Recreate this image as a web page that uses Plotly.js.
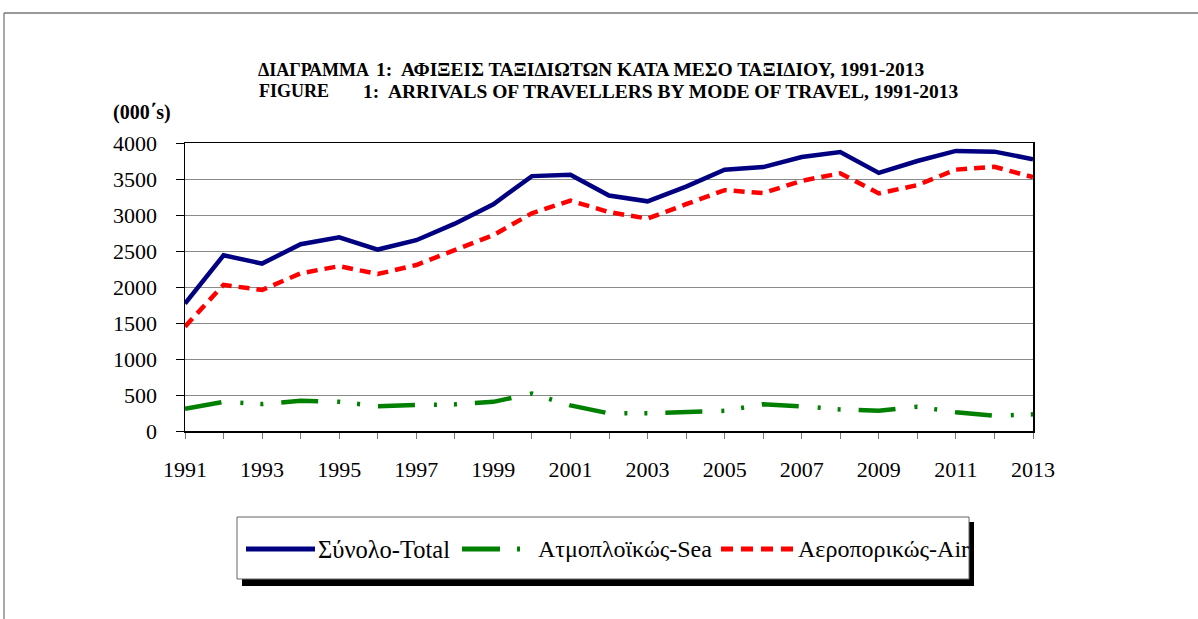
<!DOCTYPE html>
<html>
<head>
<meta charset="utf-8">
<script src="https://cdn.plot.ly/plotly-3.0.1.min.js"></script>
<style>html,body{margin:0;padding:0;background:#fff;}#chart{width:1198px;height:619px;}</style>
</head>
<body>
<div id="chart"></div>
<script>
// ---- data ----
var years = [1991,1992,1993,1994,1995,1996,1997,1998,1999,2000,2001,2002,2003,2004,2005,2006,2007,2008,2009,2010,2011,2012,2013];
var total = [1770,2440,2325,2595,2690,2520,2650,2880,3150,3540,3560,3270,3190,3395,3630,3665,3805,3875,3585,3750,3890,3880,3775];
var sea   = [310,405,375,420,405,345,360,370,405,520,355,245,245,255,280,370,343,300,282,338,260,212,232];
var air   = [1450,2030,1958,2190,2290,2180,2305,2505,2720,3025,3200,3040,2950,3150,3345,3305,3475,3580,3300,3415,3630,3670,3525];
var seriesNames = ["Σύνολο-Total", "Ατμοπλοϊκώς-Sea", "Αεροπορικώς-Air"];
var titleLabels = ["ΔΙΑΓΡΑΜΜΑ", "FIGURE"];
var titleTexts = ["1:  ΑΦΙΞΕΙΣ ΤΑΞΙΔΙΩΤΩΝ ΚΑΤΑ ΜΕΣΟ ΤΑΞΙΔΙΟΥ, 1991-2013",
                  "1:  ARRIVALS OF TRAVELLERS BY MODE OF TRAVEL, 1991-2013"];
var unitLabel = "(000΄s)";

// ---- geometry helpers (pixel -> paper) ----
var W = 1198, H = 619, L = 185, R = 1033, T = 143, B = 431;
function px(x){ return (x - L) / (R - L); }
function py(y){ return (B - y) / (B - T); }

var serif = "\"Liberation Serif\", \"Times New Roman\", Times, serif";
var navy = "#000080", green = "#008000", red = "#FF0000";
var seaDash = "37px,19px,3px,17px,3px,18px";
var airDash = "11px,7px";

var traces = [
  {x: years, y: total, name: seriesNames[0], type: "scatter", mode: "lines",
   line: {color: navy, width: 4.5}},
  {x: years, y: sea, name: seriesNames[1], type: "scatter", mode: "lines",
   line: {color: green, width: 4.5, dash: seaDash}},
  {x: years, y: air, name: seriesNames[2], type: "scatter", mode: "lines",
   line: {color: red, width: 4.5, dash: airDash}}
];

var shapes = [
  // outer frame
  {type: "line", xref: "paper", yref: "paper", x0: px(4), x1: px(1198), y0: py(13), y1: py(13), line: {color: "#777", width: 1.5}},
  {type: "line", xref: "paper", yref: "paper", x0: px(4), x1: px(4), y0: py(13), y1: py(619), line: {color: "#555", width: 1}},
  // legend shadow and box
  {type: "rect", xref: "paper", yref: "paper", x0: px(242), x1: px(974), y0: py(522), y1: py(586), fillcolor: "#000", line: {width: 0}},
  {type: "rect", xref: "paper", yref: "paper", x0: px(237), x1: px(969), y0: py(517), y1: py(579), fillcolor: "#fff", line: {color: "#666", width: 1}},
  // legend samples
  {type: "line", xref: "paper", yref: "paper", x0: px(246), x1: px(315), y0: py(549), y1: py(549), line: {color: navy, width: 5}},
  {type: "line", xref: "paper", yref: "paper", x0: px(462), x1: px(521), y0: py(549), y1: py(549), line: {color: green, width: 5, dash: "38px,17px,3px,40px"}},
  {type: "line", xref: "paper", yref: "paper", x0: px(721), x1: px(793), y0: py(549), y1: py(549), line: {color: red, width: 5, dash: "12px,8px"}}
];

var annotations = [
  {xref: "paper", yref: "paper", x: px(256), y: py(70), xanchor: "left", yanchor: "middle", showarrow: false,
   text: "<b>" + titleLabels[0] + "</b>", font: {family: serif, size: 18, color: "#000"}},
  {xref: "paper", yref: "paper", x: px(374), y: py(70), xanchor: "left", yanchor: "middle", showarrow: false,
   text: "<b>" + titleTexts[0] + "</b>", font: {family: serif, size: 19.5, color: "#000"}},
  {xref: "paper", yref: "paper", x: px(257), y: py(91), xanchor: "left", yanchor: "middle", showarrow: false,
   text: "<b>" + titleLabels[1] + "</b>", font: {family: serif, size: 18, color: "#000"}},
  {xref: "paper", yref: "paper", x: px(361), y: py(91), xanchor: "left", yanchor: "middle", showarrow: false,
   text: "<b>" + titleTexts[1] + "</b>", font: {family: serif, size: 19.5, color: "#000"}},
  {xref: "paper", yref: "paper", x: px(111), y: py(112), xanchor: "left", yanchor: "middle", showarrow: false,
   text: "<b>" + unitLabel + "</b>", font: {family: serif, size: 20, color: "#000"}},
  // legend labels
  {xref: "paper", yref: "paper", x: px(316), y: py(549), xanchor: "left", yanchor: "middle", showarrow: false,
   text: seriesNames[0], font: {family: serif, size: 24.5, color: "#000"}},
  {xref: "paper", yref: "paper", x: px(536), y: py(549), xanchor: "left", yanchor: "middle", showarrow: false,
   text: seriesNames[1], font: {family: serif, size: 24, color: "#000"}},
  {xref: "paper", yref: "paper", x: px(796), y: py(549), xanchor: "left", yanchor: "middle", showarrow: false,
   text: seriesNames[2], font: {family: serif, size: 24, color: "#000"}}
];

var layout = {
  width: W, height: H,
  margin: {l: L, r: W - R, t: T, b: H - B, pad: 0},
  paper_bgcolor: "#fff", plot_bgcolor: "#fff",
  showlegend: false,
  font: {family: serif, color: "#000"},
  xaxis: {
    range: [1991, 2013], tickmode: "linear", tick0: 1991, dtick: 1, ticklabelstep: 2,
    showgrid: false, zeroline: false,
    showline: true, linecolor: "#000", linewidth: 1.5, mirror: true,
    ticks: "outside", ticklen: 6, tickcolor: "#777", tickwidth: 1,
    ticklabelstandoff: 12,
    tickfont: {family: serif, size: 22, color: "#000"}
  },
  yaxis: {
    range: [0, 4000], tickmode: "linear", tick0: 0, dtick: 500,
    showgrid: true, gridcolor: "#8a8a8a", gridwidth: 1,
    zeroline: false,
    showline: true, linecolor: "#000", linewidth: 1.5, mirror: true,
    ticks: "outside", ticklen: 8, tickcolor: "#000", tickwidth: 1,
    ticklabelstandoff: 14,
    tickfont: {family: serif, size: 22, color: "#000"}
  },
  shapes: shapes,
  annotations: annotations
};

Plotly.newPlot("chart", traces, layout, {displayModeBar: false, staticPlot: true});
</script>
</body>
</html>
